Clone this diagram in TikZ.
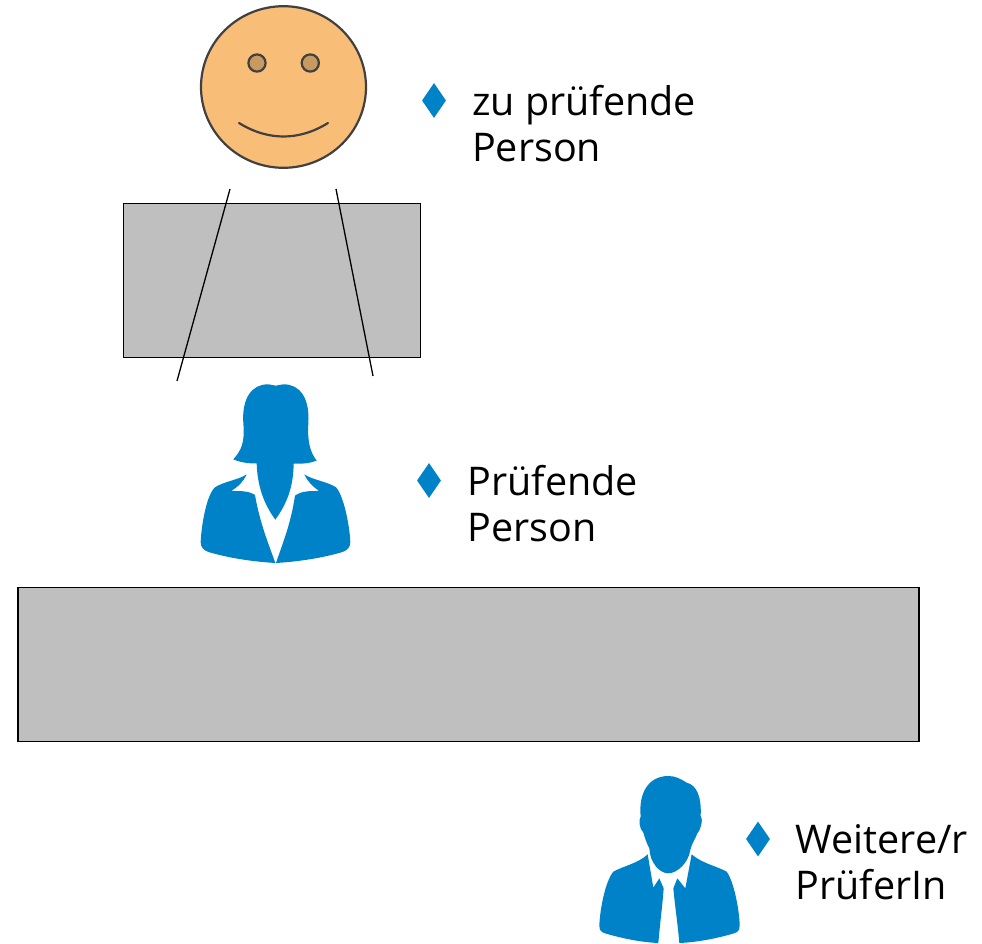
\documentclass[tikz,border=0pt]{standalone}
\usepackage{fontspec}
\setmainfont{Open Sans}
\usetikzlibrary{shapes.geometric}
\definecolor{iconblue}{HTML}{0082C8}
\definecolor{skin}{HTML}{F8BE78}
\definecolor{eye}{HTML}{C89A60}
\definecolor{edgegray}{HTML}{404040}
\definecolor{boxgray}{HTML}{BFBFBF}
\tikzset{
  panel/.style={draw=black,fill=boxgray,line width=1.4pt,inner sep=0pt,outer sep=0pt,anchor=north west},
  faceline/.style={draw=edgegray,line width=2.2pt},
  bullet/.style={diamond,fill=iconblue,inner sep=0pt,minimum width=24pt,minimum height=35pt,aspect=0.68},
  lbl/.style={anchor=north west,align=left,inner sep=0pt,font=\fontsize{39.5}{46}\selectfont},
  icon/.style={fill=iconblue,draw=none},
  sight/.style={line width=1.3pt},
}
\begin{document}
\begin{tikzpicture}[x=1pt,y=-1pt]
\useasboundingbox (0,0) rectangle (982,943);
% face
\draw[faceline,fill=skin] (283.5,87) ellipse [x radius=82.5,y radius=80.8];
\draw[faceline,fill=eye] (257,63) circle (8.6);
\draw[faceline,fill=eye] (310.3,63) circle (8.6);
\draw[faceline,line cap=round] (239,123) .. controls (268,141) and (299,141) .. (328,123);
% panels
\node[panel,minimum width=297pt,minimum height=153.5pt] (upper) at (123.7,203.7) {};
\node[panel,minimum width=901pt,minimum height=153.5pt] (lower) at (18,587.7) {};
% sight lines
\coordinate (la) at (230,189); \coordinate (lb) at (177,381);
\coordinate (ra) at (336,189); \coordinate (rb) at (373,376);
\draw[sight] (la) -- (lb);
\draw[sight] (ra) -- (rb);
% woman
\begin{scope}[shift={(180,370)},x=0.3333pt,y=-0.3333pt]
\fill[icon] (160,268) .. controls (185,240) and (195,215) .. (190,160)
  .. controls (185,85) and (215,42) .. (265,43) .. controls (275,43) and (280,47) .. (287,47)
  .. controls (294,47) and (300,43) .. (310,43) .. controls (360,42) and (390,85) .. (385,160)
  .. controls (382,215) and (390,245) .. (410,272)
  .. controls (390,280) and (365,282) .. (341,281)
  .. controls (340,345) and (325,395) .. (286,449)
  .. controls (250,400) and (232,345) .. (230,280)
  .. controls (205,281) and (180,277) .. (160,268) -- cycle;
\fill[icon] (200,313) .. controls (175,330) and (130,335) .. (105,352)
  .. controls (80,375) and (65,460) .. (62,515)
  .. controls (62,532) and (70,540) .. (85,546)
  .. controls (150,565) and (220,575) .. (286,579)
  .. controls (265,520) and (240,460) .. (225,375)
  .. controls (205,362) and (180,363) .. (153,363)
  .. controls (175,350) and (190,335) .. (200,313) -- cycle;
\fill[icon] (373,313) .. controls (398,330) and (443,335) .. (468,352)
  .. controls (490,375) and (508,460) .. (511,515)
  .. controls (511,532) and (503,540) .. (488,546)
  .. controls (423,565) and (353,575) .. (288,579)
  .. controls (308,520) and (333,460) .. (345,377)
  .. controls (365,362) and (393,363) .. (418,363)
  .. controls (398,350) and (383,335) .. (373,313) -- cycle;
\end{scope}
% man
\begin{scope}[shift={(580,760)},x=0.3333pt,y=-0.3333pt]
\fill[icon] (265,48) .. controls (285,48) and (300,55) .. (320,68)
  .. controls (350,75) and (365,110) .. (362,168)
  .. controls (369,175) and (365,205) .. (352,220)
  .. controls (345,240) and (335,250) .. (331,270)
  .. controls (325,310) and (290,340) .. (265,340)
  .. controls (240,340) and (210,310) .. (208,265)
  .. controls (200,250) and (195,235) .. (190,218)
  .. controls (178,205) and (175,180) .. (182,170)
  .. controls (175,100) and (205,48) .. (265,48) -- cycle;
\fill[icon] (203,283) .. controls (175,310) and (125,320) .. (100,335)
  .. controls (75,365) and (60,450) .. (58,495)
  .. controls (58,510) and (62,516) .. (75,520)
  .. controls (125,535) and (185,547) .. (235,549)
  .. controls (240,490) and (247,440) .. (251,385)
  -- (238,355) -- (220,383) -- cycle;
\fill[icon] (335,283) .. controls (365,310) and (415,320) .. (440,335)
  .. controls (462,365) and (478,450) .. (479,495)
  .. controls (479,510) and (475,516) .. (462,520)
  .. controls (412,535) and (350,547) .. (298,549)
  .. controls (293,490) and (285,440) .. (280,385)
  -- (292,355) -- (316,385) -- cycle;
\end{scope}
% bullets and labels
\node[bullet] (b1) at (434,100.5) {};
\node[lbl] (t1) at (472,85) {zu prüfende\\Person};
\node[bullet] (b2) at (429,480.5) {};
\node[lbl] (t2) at (467.5,465) {Prüfende\\Person};
\node[bullet] (b3) at (758,839) {};
\node[lbl] (t3) at (795.5,824) {Weitere/r\\PrüferIn};
\end{tikzpicture}
\end{document}
